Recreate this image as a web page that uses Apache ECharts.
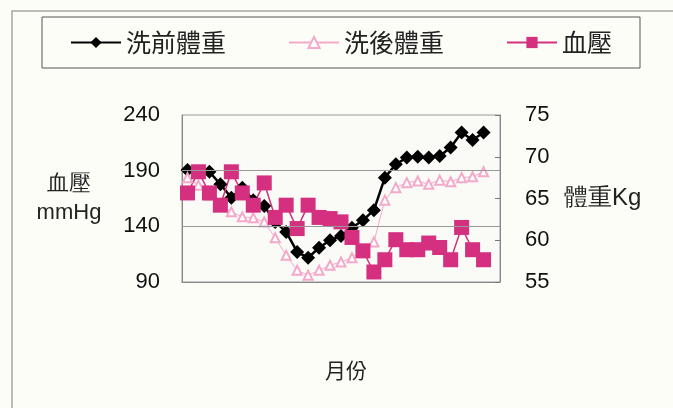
<!DOCTYPE html>
<html>
<head>
<meta charset="utf-8">
<script src="https://cdn.jsdelivr.net/npm/echarts@6/dist/echarts.min.js"></script>
<style>
html,body{margin:0;padding:0;background:#fdfdf7;}
#main{width:673px;height:408px;}
</style>
</head>
<body>
<div id="main"></div>
<script>
// categories (months)
var months = ['1','2','3','4','5','6','7','8','9','10','11','12','13','14','15','16','17','18','19','20','21','22','23','24','25','26','27','28','29'];
// 洗前體重 (kg)
var preWeight = [68.4,68.2,68.2,66.7,65.1,66.3,64.8,64.1,62.2,61.0,58.6,57.9,59.1,60.0,60.5,61.5,62.4,63.6,67.5,69.1,69.9,70.0,69.9,70.1,71.1,72.9,72.0,72.9];
// 洗後體重 (kg)
var postWeight = [67.5,66.6,65.4,64.2,63.4,62.8,62.7,62.2,60.3,58.2,56.4,55.8,56.4,57.0,57.4,57.9,58.8,59.8,64.8,66.3,66.9,67.1,66.7,67.2,67.0,67.5,67.6,68.2];
// 血壓 (mmHg)
var bloodPressure = [170,189,170,159,189,170,159,179,148,159,138,159,148,147,144,130,118,99,110,128,119,119,125,121,110,139,119,110];
// tick labels
var bpTicks = [90,140,190,240];
var bpGrid = [140,190];

var chart = echarts.init(document.getElementById('main'));
var cjk = '"Noto Sans CJK TC","Noto Sans CJK SC",sans-serif';
var num = '"Liberation Sans",Arial,sans-serif';
chart.setOption({
  backgroundColor:'#fdfdf7',
  animation:false,
  graphic:[{type:'rect',silent:true,shape:{x:12,y:11,width:700,height:420},style:{fill:'none',stroke:'#a8a8a0',lineWidth:1.5}}],
  legend:{
    left:42, top:17,
    padding:[13,28],
    itemGap:62,
    itemWidth:50, itemHeight:14,
    borderColor:'#555', borderWidth:1,
    textStyle:{fontFamily:cjk,fontSize:25,color:'#222'},
    data:['洗前體重','洗後體重','血壓']
  },
  grid:{left:182,right:173,top:115,bottom:126,show:true,backgroundColor:'#fafaf7',borderColor:'#999',borderWidth:1},
  xAxis:{
    type:'category', data:months,
    name:'月份', nameLocation:'middle', nameGap:88,
    nameTextStyle:{fontFamily:cjk,fontSize:21,color:'#222',verticalAlign:'middle',padding:[0,0,0,10]},
    axisLine:{lineStyle:{color:'#888'}},
    axisTick:{inside:true,length:5,lineStyle:{color:'#555'}},
    axisLabel:{show:false}
  },
  yAxis:[{
    type:'value', min:90, max:240, interval:10,
    name:'血壓\nmmHg', nameLocation:'middle', nameRotate:0, nameGap:113,
    nameTextStyle:{fontFamily:num,fontSize:22,color:'#222',align:'center',verticalAlign:'middle',lineHeight:29},
    axisLine:{show:true,lineStyle:{color:'#888'}},
    axisTick:{show:false},
    splitLine:{show:false},
    axisLabel:{fontFamily:num,fontSize:22,color:'#111',margin:22,
      formatter:function(v){return bpTicks.indexOf(v)>=0?String(v):'';}}
  },{
    type:'value', min:55, max:75, interval:5,
    name:'體重Kg', nameLocation:'middle', nameRotate:0, nameGap:64,
    nameTextStyle:{fontFamily:num,fontSize:24,color:'#222',align:'left',verticalAlign:'middle'},
    axisLine:{show:true,lineStyle:{color:'#888'}},
    axisTick:{show:true,inside:true,length:5,lineStyle:{color:'#777'}},
    splitLine:{show:false},
    axisLabel:{fontFamily:num,fontSize:22,color:'#111',margin:25}
  }],
  series:[{
    name:'洗前體重', type:'line', yAxisIndex:1, data:preWeight,
    symbol:'diamond', symbolSize:14, showSymbol:true, showAllSymbol:true,
    lineStyle:{color:'#000',width:2.5}, itemStyle:{color:'#000'}
  },{
    name:'洗後體重', type:'line', yAxisIndex:1, data:postWeight,
    symbol:'emptyTriangle', symbolSize:9, showSymbol:true, showAllSymbol:true,
    lineStyle:{color:'#f4a9c9',width:1}, itemStyle:{color:'#f4a9c9',borderWidth:1}
  },{
    name:'血壓', type:'line', yAxisIndex:0, data:bloodPressure,
    symbol:'rect', symbolSize:15, showSymbol:true, showAllSymbol:true,
    lineStyle:{color:'#d4307f',width:1.5}, itemStyle:{color:'#d4307f'},
    markLine:{silent:true,symbol:'none',label:{show:false},
      lineStyle:{color:'#999',width:1,type:'solid'},
      data:bpGrid.map(function(v){return {yAxis:v};})}
  }]
});
</script>
</body>
</html>
